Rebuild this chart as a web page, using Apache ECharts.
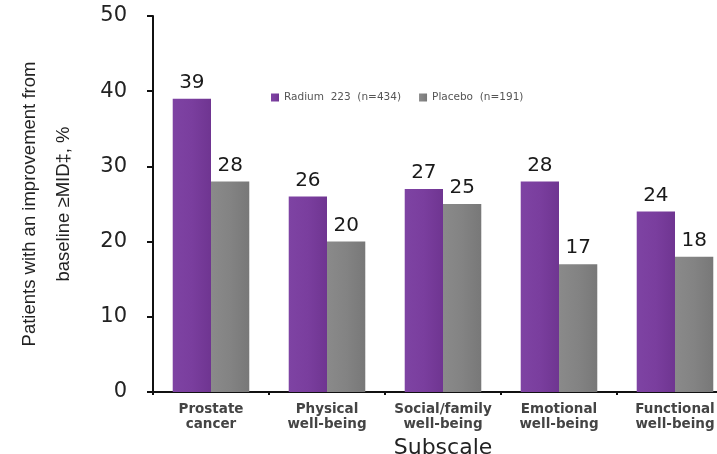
<!DOCTYPE html>
<html>
<head>
<meta charset="utf-8">
<script src="https://cdn.jsdelivr.net/npm/echarts@6/dist/echarts.min.js"></script>
<style>html,body{margin:0;padding:0;background:#fff;}#c{width:717px;height:454px;}</style>
</head>
<body>
<div id="c"></div>
<script>
const categories = ['Prostate\ncancer', 'Physical\nwell-being', 'Social/family\nwell-being', 'Emotional\nwell-being', 'Functional\nwell-being'];
const radiumValues = [39, 26, 27, 28, 24];
const placeboValues = [28, 20, 25, 17, 18];
const seriesNames = ['Radium  223  (n=434)', 'Placebo  (n=191)'];
const yTicks = [0, 10, 20, 30, 40, 50];

const purple = new echarts.graphic.LinearGradient(0, 0, 1, 0, [
  {offset: 0, color: '#7e43a3'}, {offset: 0.5, color: '#7a3e9e'}, {offset: 1, color: '#6f3591'}
]);
const gray = new echarts.graphic.LinearGradient(0, 0, 1, 0, [
  {offset: 0, color: '#8a8a8a'}, {offset: 0.5, color: '#838383'}, {offset: 1, color: '#787878'}
]);
const wide = 'DejaVu Sans, Verdana, sans-serif';

const chart = echarts.init(document.getElementById('c'), null, {renderer: 'canvas'});
const labelCfg = {show: true, position: 'top', distance: 6, color: '#1a1a1a', fontSize: 20, fontFamily: wide};
chart.setOption({
  animation: false,
  backgroundColor: '#fff',
  grid: {left: 153, top: 16, width: 580, height: 376, containLabel: false, outerBoundsMode: 'none'},
  legend: {
    left: 266, top: 87, itemWidth: 8, itemHeight: 8, itemGap: 18,
    icon: 'rect',
    textStyle: {fontSize: 10.5, color: '#555', fontFamily: wide},
    data: seriesNames
  },
  xAxis: {
    type: 'category', data: categories,
    name: 'Subscale', nameLocation: 'middle', nameGap: 40,
    nameTextStyle: {fontSize: 22, color: '#222', fontFamily: wide},
    axisLine: {lineStyle: {color: '#111', width: 2}},
    axisTick: {show: true, length: 3, lineStyle: {color: '#111', width: 2}},
    axisLabel: {fontSize: 13.5, fontWeight: 'bold', color: '#444', lineHeight: 15, margin: 10, fontFamily: wide, interval: 0}
  },
  yAxis: {
    type: 'value', min: 0, max: 50, interval: 10,
    name: 'Patients with an improvement from\nbaseline ≥MID‡, %',
    nameLocation: 'middle', nameGap: 72, nameRotate: 90,
    nameTextStyle: {fontSize: 18.5, color: '#222', lineHeight: 34, fontFamily: 'Liberation Sans, Arial, sans-serif'},
    axisLine: {show: true, lineStyle: {color: '#111', width: 2}},
    axisTick: {show: true, length: 6, lineStyle: {color: '#111', width: 2}},
    splitLine: {show: false},
    axisLabel: {fontSize: 21, color: '#222', margin: 26, fontFamily: wide,
      formatter: v => yTicks.includes(v) ? String(v) : ''}
  },
  series: [
    {name: seriesNames[0], type: 'bar', data: radiumValues, barGap: '0%', barCategoryGap: '34%',
     itemStyle: {color: purple}, label: labelCfg},
    {name: seriesNames[1], type: 'bar', data: placeboValues,
     itemStyle: {color: gray}, label: labelCfg}
  ]
});
</script>
</body>
</html>
